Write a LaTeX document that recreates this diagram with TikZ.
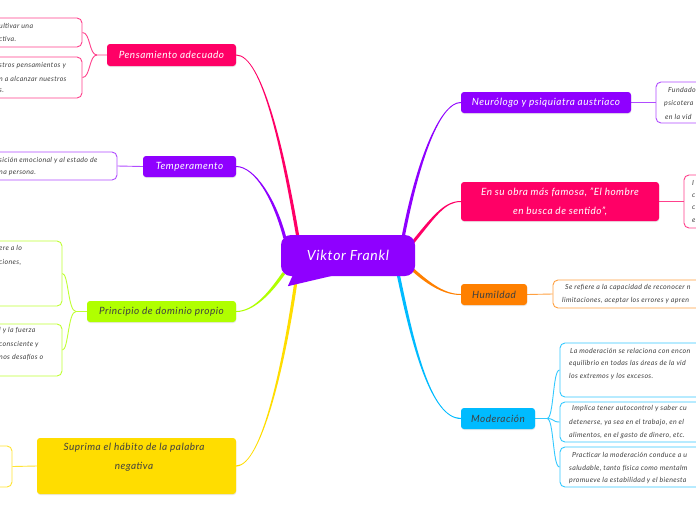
\documentclass[tikz,border=0pt]{standalone}
\usepackage{fontspec}
\setmainfont{Lato}[LetterSpace=5]
\usetikzlibrary{calc,shadows}
\definecolor{cpink}{HTML}{FF0066}
\definecolor{cpurple}{HTML}{8F00FF}
\definecolor{clime}{HTML}{B0FF00}
\definecolor{cyellow}{HTML}{FFDD00}
\definecolor{corange}{HTML}{FF8000}
\definecolor{ccyan}{HTML}{00BBFF}
\definecolor{textgray}{HTML}{404040}
\pgfdeclarelayer{bg}
\pgfdeclarelayer{background}
\pgfsetlayers{bg,background,main}
\newcommand{\ribbon}[7]{%
  \fill[#1] ($(#2)+(#6)$) .. controls ($(#3)+(#6)$) and ($(#4)+(#7)$) .. ($#5+(#7)$)
    -- ($#5-(#7)$) .. controls ($(#4)-(#7)$) and ($(#3)-(#6)$) .. ($(#2)-(#6)$) -- cycle;}
\begin{document}
\begin{tikzpicture}[x=1pt,y=-1pt,
  branch/.style={rounded corners=3pt, inner sep=0pt, font=\fontsize{10}{19}\selectfont\itshape, text=white, align=center,
    drop shadow={opacity=0.18, shadow xshift=0.3pt, shadow yshift=-1pt}},
  leaf/.style={draw, fill=white, rounded corners=5pt, line width=0.9pt, inner sep=0pt},
  leaftext/.style={font=\fontsize{7}{8}\selectfont\itshape, text=textgray, inner sep=0pt, anchor=west},
  lefttext/.style={leaftext},
  sub/.style={line width=0.9pt}]
\begin{pgfonlayer}{bg}
\fill[white] (0,0) rectangle (696,520);
\end{pgfonlayer}
\useasboundingbox (0,0) rectangle (696,520);

% central node
\node[fill=cpurple, rounded corners=10pt, minimum width=134pt, minimum height=41pt, inner sep=0pt,
  font=\fontsize{14}{16}\selectfont\itshape, text=white] (vf) at (348,255.5) {Viktor Frankl};
\fill[cpurple] ($(vf.south west)+(12,-1)$) -- ($(vf.south west)+(7,10)$) .. controls ($(vf.south west)+(30,5)$) .. ($(vf.south west)+(54,-1)$) -- cycle;

% branch nodes
\node[branch, fill=cpink, minimum width=129pt, minimum height=22pt] (pa) at (171.5,55) {Pensamiento adecuado};
\node[branch, fill=cpurple, minimum width=93pt, minimum height=21pt] (tm) at (189.5,166.5) {Temperamento};
\node[branch, fill=clime, text=textgray, minimum width=149pt, minimum height=21pt] (pd) at (161.5,311.5) {Principio de dominio propio};
\node[branch, fill=cyellow, minimum width=199pt, minimum height=56pt] (sh) at (136.5,466) {};
\node[font=\fontsize{10}{19}\selectfont\itshape, text=textgray, align=center, inner sep=0pt] (shtext) at (134,457.5) {Suprima el hábito de la palabra\\negativa};
\node[branch, fill=cpurple, minimum width=170pt, minimum height=21pt] (nr) at (546,102.5) {Neurólogo y psiquiatra austriaco};
\node[branch, fill=cpink, minimum width=198pt, minimum height=39pt] (ob) at (560,201.5) {En su obra más famosa, "El hombre\\en busca de sentido",};
\node[branch, fill=corange, text=textgray, minimum width=66pt, minimum height=21pt] (hu) at (494,294.5) {Humildad};
\node[branch, fill=ccyan, text=textgray, minimum width=74pt, minimum height=21pt] (mo) at (498,418.5) {Moderación};

% leaf boxes
\node[leaf, draw=cpink!75!white, minimum width=112pt, minimum height=29pt] (pa1) at (26,32.5) {};
\node[leaf, draw=cpink!75!white, minimum width=112pt, minimum height=41pt] (pa2) at (26,77.5) {};
\node[leaf, draw=cpurple!70!white, minimum width=147pt, minimum height=28pt] (tm1) at (43.5,166) {};
\node[leaf, draw=clime!80!white, minimum width=92pt, minimum height=65pt] (pd1) at (16,273.5) {};
\node[leaf, draw=clime!80!white, minimum width=92pt, minimum height=52pt] (pd2) at (16,350) {};
\node[leaf, draw=cyellow!80!white, minimum width=42pt, minimum height=41pt] (sh1) at (-9,466.5) {};
\node[leaf, draw=cpurple!70!white, minimum width=74pt, minimum height=41pt] (nr1) at (693,102.5) {};
\node[leaf, draw=cpink!75!white, minimum width=56pt, minimum height=53pt] (ob1) at (712,201.5) {};
\node[leaf, draw=corange!75!white, minimum width=187pt, minimum height=28pt] (hu1) at (646.5,294) {};
\node[leaf, draw=ccyan!80!white, minimum width=180pt, minimum height=54pt] (mo1) at (650,370) {};
\node[leaf, draw=ccyan!80!white, minimum width=180pt, minimum height=40pt] (mo2) at (650,422) {};
\node[leaf, draw=ccyan!80!white, minimum width=180pt, minimum height=40pt] (mo3) at (650,467) {};

% leaf texts
\node[lefttext] (t1) at (-1,26) {ultivar una};
\node[lefttext] (t2) at (-1,39) {ctiva.};
\node[lefttext] (t3) at (-1,66) {stros pensamientos y};
\node[lefttext] (t4) at (-1,79) {n a alcanzar nuestros};
\node[lefttext] (t5) at (-1,91) {s.};
\node[lefttext] (t6) at (-1,161) {sición emocional y al estado de};
\node[lefttext] (t7) at (-1,173) {na persona.};
\node[lefttext] (t8) at (-1,248) {ere a lo};
\node[lefttext] (t9) at (-1,262) {ciones,};
\node[lefttext] (t10) at (-1,331) {l y la fuerza};
\node[lefttext] (t11) at (-1,345) {consciente y};
\node[lefttext] (t12) at (-1,357) {nos desafíos o};
\node[leaftext] (t13) at (668,90) {Fundado};
\node[leaftext] (t14) at (664,104) {psicotera};
\node[leaftext] (t15) at (665,117) {en la vid};
\node[leaftext] (t16) at (692,183) {I};
\node[leaftext] (t17) at (692,196) {c};
\node[leaftext] (t18) at (692,208) {c};
\node[leaftext] (t19) at (692,221) {e};
\node[leaftext] (t20) at (565,288) {Se refiere a la capacidad de reconocer n};
\node[leaftext] (t21) at (562,301) {limitaciones, aceptar los errores y apren};
\node[leaftext] (t22) at (570,351) {La moderación se relaciona con encon};
\node[leaftext] (t23) at (569,364) {equilibrio en todas las áreas de la vid};
\node[leaftext] (t24) at (569,377) {los extremos y los excesos.};
\node[leaftext] (t25) at (572,409) {Implica tener autocontrol y saber cu};
\node[leaftext] (t26) at (569,423) {detenerse, ya sea en el trabajo, en el};
\node[leaftext] (t27) at (569,436) {alimentos, en el gasto de dinero, etc.};
\node[leaftext] (t28) at (572,455) {Practicar la moderación conduce a u};
\node[leaftext] (t29) at (569,468) {saludable, tanto física como mentalm};
\node[leaftext] (t30) at (569,481) {promueve la estabilidad y el bienesta};

\begin{pgfonlayer}{background}
% main tapered connectors
\ribbon{cpink}{pa.east}{262,55}{283,150}{($(vf.north west)+(17,2)$)}{0,-0.5}{1.6,0}
\ribbon{cpurple}{tm.east}{255,166.5}{275,200}{($(vf.north west)+(4,3)$)}{0,-0.5}{1.6,0}
\ribbon{clime}{pd.east}{255,311.5}{272,290}{($(vf.south west)+(3,-3)$)}{0,-0.5}{-1.3,-0.9}
\ribbon{cyellow}{sh.east}{262,466}{285,360}{($(vf.south west)+(16,-1)$)}{0,-0.5}{-1.6,0}
\ribbon{cpurple}{nr.west}{440,102.5}{418,160}{($(vf.north east)+(-12,2)$)}{0,-0.5}{-1.6,0}
\ribbon{cpink}{ob.west}{445,201.5}{435,215}{($(vf.east)+(-2,-13.5)$)}{0,-0.5}{-1.2,-0.9}
\ribbon{corange}{hu.west}{445,294.5}{430,285}{($(vf.east)+(-2,14.5)$)}{0,-0.5}{1.1,-1.1}
\ribbon{ccyan}{mo.west}{430,418.5}{412,340}{($(vf.south east)+(-17,-2)$)}{0,-0.5}{1.6,0}

% sub connectors
\coordinate (paf) at (97,55);
\draw[sub, cpink!75!white] (pa.west) -- (paf) .. controls +(-8,0) and +(8,0) .. (pa1.east);
\draw[sub, cpink!75!white] (paf) .. controls +(-8,0) and +(8,0) .. (pa2.east);
\draw[sub, cpurple!70!white] (tm.west) -- (tm1.east);
\coordinate (pdf) at (76,311.5);
\draw[sub, clime!80!white] (pd.west) -- (pdf) .. controls +(-8,0) and +(6,0) .. (pd1.east);
\draw[sub, clime!80!white] (pdf) .. controls +(-8,0) and +(6,0) .. (pd2.east);
\draw[sub, cyellow!80!white] (sh.west) -- (sh1.east);
\draw[sub, cpurple!70!white] (nr.east) -- (nr1.west);
\draw[sub, cpink!75!white] (ob.east) -- (ob1.west);
\draw[sub, corange!75!white] (hu.east) -- (hu1.west);
\coordinate (mof) at (547,418.5);
\draw[sub, ccyan!80!white] (mo.east) -- (mof) .. controls +(7,0) and +(-7,0) .. (mo1.west);
\draw[sub, ccyan!80!white] (mof) .. controls +(7,0) and +(-7,0) .. (mo2.west);
\draw[sub, ccyan!80!white] (mof) .. controls +(7,0) and +(-7,0) .. (mo3.west);
\end{pgfonlayer}
\end{tikzpicture}
\end{document}
